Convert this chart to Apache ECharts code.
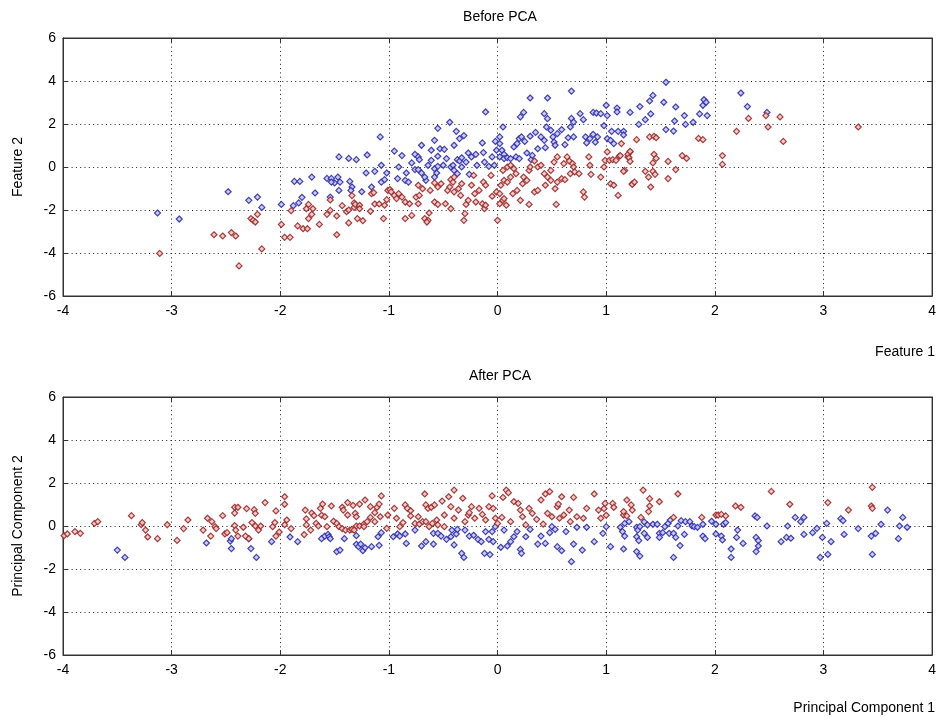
<!DOCTYPE html>
<html>
<head>
<meta charset="utf-8">
<script src="https://cdn.jsdelivr.net/npm/echarts@6/dist/echarts.min.js"></script>
<style>
  html, body { margin: 0; padding: 0; background: #fff; }
  #chart { width: 939px; height: 718px; }
</style>
</head>
<body>
<div id="chart"></div>
<script>
// axis ticks
var xTicks = [-4, -3, -2, -1, 0, 1, 2, 3, 4];
var yTicks = [-6, -4, -2, 0, 2, 4, 6];

// Before PCA, class 1 (blue)
var beforeBlue = [
  [-3.13,-2.14],[-2.93,-2.42],[-2.48,-1.15],[-2.29,-1.55],[-2.21,-1.40],[-2.17,-1.88],[-1.99,-1.74],[-1.88,-1.80],[-1.83,-1.67],[-1.80,-1.41],
  [-1.87,-0.67],[-1.82,-0.67],[-1.71,-0.47],[-1.68,-1.21],[-1.54,-1.40],[-1.57,-0.53],[-1.53,-0.53],[-1.47,-0.47],[-1.50,-0.74],[-1.53,-0.70],
  [-1.45,-0.70],[-1.46,0.47],[-1.37,0.40],[-1.30,0.34],[-1.36,-0.67],[-1.34,-0.93],[-1.35,-1.09],[-1.46,-1.09],
  [-1.20,0.56],[-1.08,1.40],[-1.21,-0.28],[-1.13,-0.20],[-1.07,0.08],[-1.16,-0.93],[-1.25,-1.15],[-1.07,-0.70],[-1.04,-0.59],[-1.02,-0.28],
  [-0.95,0.74],[-0.88,0.53],[-0.91,0.0],[-0.92,-0.54],[-0.85,-0.62],[-0.82,-0.70],[-0.84,-0.28],[-0.79,0.19],[-0.76,0.59],[-0.73,0.47],
  [-0.72,0.34],[-0.76,-0.12],[-0.73,-0.12],[-0.70,1.01],[-0.66,-0.62],[-0.70,-0.28],[-0.67,-0.47],[-0.61,0.78],[-0.58,1.24],[-0.55,1.80],
  [-0.55,0.50],[-0.53,0.85],[-0.49,0.82],[-0.58,-0.08],[-0.55,0.03],[-0.50,0.08],[-0.58,-0.47],[-0.56,-0.28],[-0.64,0.08],[-0.61,0.31],
  [-0.47,0.39],[-0.44,2.08],[-0.40,1.01],[-0.38,1.66],[-0.35,1.32],[-0.31,1.46],[-0.43,0.0],[-0.41,0.08],[-0.40,-0.16],[-0.37,0.34],
  [-0.35,0.28],[-0.33,0.43],[-0.33,0.0],[-0.37,-0.31],[-0.29,0.23],[-0.27,0.65],[-0.24,0.47],[-0.20,0.59],[-0.26,-0.34],[-0.19,0.08],
  [-0.14,1.12],[-0.13,0.67],[-0.12,0.23],[-0.11,2.56],[-0.08,0.03],[-0.05,0.47],[-0.02,1.19],[-0.01,0.78],[-0.03,0.08],
  [0.02,1.40],[0.02,1.09],[0.04,0.78],[0.05,1.86],[0.02,0.47],[0.06,0.59],[0.06,0.39],[0.09,0.43],[0.12,0.39],[0.15,0.93],
  [0.18,1.09],[0.20,1.32],[0.22,1.40],[0.17,0.47],[0.20,0.39],[0.21,2.33],[0.24,2.54],[0.25,1.19],[0.27,0.65],[0.30,3.21],
  [0.31,0.34],[0.32,0.54],[0.30,1.43],[0.35,1.61],[0.37,0.85],[0.40,1.40],[0.43,1.24],[0.43,2.48],[0.46,2.25],[0.46,3.21],
  [0.45,1.86],[0.49,1.71],[0.51,1.40],[0.52,1.16],[0.44,0.90],[0.53,1.01],[0.55,1.55],[0.59,1.74],[0.62,1.04],[0.65,1.36],
  [0.67,1.86],[0.68,2.26],[0.68,3.53],[0.70,2.09],[0.70,1.40],[0.76,2.48],[0.79,2.20],[0.81,1.40],[0.82,1.12],[0.85,1.32],
  [0.88,1.52],[0.90,1.15],[0.92,1.40],[0.88,2.54],[0.91,2.51],[0.95,2.48],[0.98,1.92],[1.00,2.87],[1.01,2.39],[1.01,1.32],
  [1.04,1.24],[1.05,1.66],[1.07,1.09],[1.10,2.74],[1.10,2.56],[1.11,1.66],[1.16,1.66],[1.16,1.49],[1.22,2.54],
  [1.30,1.98],[1.31,2.81],[1.36,2.20],[1.40,3.07],[1.43,3.33],[1.41,2.47],[1.53,3.01],[1.55,3.94],[1.55,1.74],[1.62,1.67],
  [1.63,2.14],[1.64,2.79],[1.72,2.39],[1.73,1.98],[1.80,2.08],[1.86,2.47],[1.89,2.87],[1.90,3.13],[1.92,3.01],[1.93,2.39],
  [2.24,3.44],[2.30,2.81],[2.48,2.54]
];

// Before PCA, class 2 (red)
var beforeRed = [
  [-3.11,-4.02],[-2.61,-3.15],[-2.53,-3.21],[-2.45,-3.05],[-2.41,-3.21],[-2.38,-4.60],[-2.27,-2.40],[-2.25,-2.48],[-2.23,-2.56],[-2.21,-2.20],
  [-2.17,-3.81],[-1.99,-2.67],[-1.96,-3.27],[-1.91,-3.27],[-1.90,-2.03],[-1.84,-2.74],[-1.79,-2.87],[-1.75,-2.87],[-1.74,-2.40],[-1.74,-1.74],
  [-1.76,-1.94],[-1.70,-1.94],[-1.71,-2.20],[-1.64,-2.67],[-1.57,-2.20],[-1.54,-2.02],[-1.54,-1.53],[-1.48,-2.28],[-1.48,-3.15],[-1.43,-1.80],
  [-1.39,-2.08],[-1.37,-2.00],[-1.37,-2.60],[-1.34,-1.33],[-1.32,-1.67],[-1.32,-1.88],[-1.29,-2.40],
  [-1.31,-1.74],[-1.27,-1.78],[-1.27,-1.94],[-1.24,-2.50],[-1.17,-2.06],[-1.16,-1.24],[-1.14,-1.19],[-1.13,-1.72],[-1.09,-1.72],[-1.05,-2.40],
  [-1.04,-1.78],[-1.02,-1.52],[-1.01,-1.09],[-0.99,-1.05],
  [-0.98,-1.16],[-0.95,-1.32],[-0.91,-1.24],[-0.93,-1.47],[-0.88,-1.40],[-0.85,-1.63],[-0.85,-2.40],[-0.79,-2.25],[-0.81,-1.71],[-0.75,-1.40],
  [-0.72,-1.32],[-0.73,-1.71],[-0.73,-0.85],[-0.69,-1.01],[-0.67,-2.40],[-0.64,-2.48],[-0.65,-2.56],[-0.63,-2.14],[-0.58,-1.63],[-0.55,-1.74],
  [-0.62,-1.09],[-0.58,-0.74],[-0.55,-0.93],[-0.52,-0.78],[-0.48,-1.71],[-0.43,-1.94],[-0.46,-1.09],[-0.44,-0.93],[-0.43,-0.59],[-0.41,-0.70],
  [-0.40,-0.47],[-0.40,-1.16],[-0.36,-1.01],[-0.34,-1.32],[-0.33,-0.78],[-0.30,-2.17],[-0.31,-2.48],[-0.29,-1.74],[-0.27,-1.55],[-0.24,-0.85],
  [-0.22,-0.39],[-0.21,-1.24],[-0.20,-1.63],[-0.17,-1.09],[-0.14,-1.71],[-0.12,-1.94],[-0.11,-1.78],[-0.13,-0.70],[-0.11,-0.85],[-0.06,-0.39],
  [-0.05,-1.36],[-0.01,-1.16],[0.00,-2.48],
  [0.02,-1.71],[0.05,-1.55],[0.06,-1.47],[0.08,-1.78],[0.02,-1.24],[0.05,-0.16],[0.06,-0.62],[0.03,-0.85],[0.09,-0.70],[0.12,-0.47],
  [0.09,0.0],[0.12,0.08],[0.15,-0.08],[0.17,-0.31],[0.14,-1.24],[0.18,-1.09],[0.21,-1.55],[0.23,-0.78],[0.24,-0.47],[0.27,-0.62],
  [0.29,-0.16],[0.30,0.0],[0.29,-1.74],[0.34,-1.16],[0.37,-1.09],[0.34,0.28],[0.37,0.0],[0.40,0.08],[0.43,-0.31],[0.44,-0.85],
  [0.46,-0.47],[0.49,-0.62],[0.49,-0.16],[0.52,0.23],[0.55,0.47],[0.53,-1.01],[0.55,-0.70],[0.59,-0.54],[0.61,0.16],[0.64,0.47],
  [0.66,0.28],[0.69,0.16],[0.70,0.0],[0.54,-1.74],[0.67,-0.31],[0.71,-0.23],[0.75,-0.31],[0.62,-0.59],[0.79,-1.16],[0.80,-1.40],
  [0.84,0.47],[0.85,0.08],[0.86,-0.34],[0.95,-0.47],[0.98,0.0],[0.99,0.31],[1.01,0.70],[1.04,-0.78],[1.07,-0.85],[1.11,-1.32],
  [1.03,0.31],[1.06,0.34],[1.09,0.31],[1.12,0.50],[1.14,1.09],[1.17,-0.16],[1.20,0.47],[1.22,0.70],[1.24,-0.78],
  [1.28,1.27],[1.40,1.40],[1.44,1.43],[1.46,1.36],[1.13,0.53],[1.20,0.59],[1.22,0.73],[1.21,0.43],[1.22,0.26],[1.16,-0.20],
  [1.24,-0.81],[1.26,-0.70],[1.36,-0.20],[1.39,-0.47],[1.41,-0.93],[1.43,0.19],[1.44,0.59],[1.46,0.40],[1.43,-0.20],[1.45,-0.34],
  [1.57,0.26],[1.57,-0.54],[1.64,-0.12],[1.70,0.53],[1.74,0.40],[1.85,1.33],[1.89,1.27],[2.07,0.53],[2.07,0.12],[2.20,1.66],
  [2.31,2.26],[2.47,2.39],[2.49,1.86],[2.60,2.33],[2.63,1.19],[3.32,1.86]
];

// After PCA, class 1 (blue)
var afterBlue = [
  [-3.50,-1.12],[-3.43,-1.46],[-2.68,-0.79],[-2.46,-0.70],[-2.45,-0.59],[-2.45,-1.05],[-2.29,-0.59],[-2.27,-1.05],[-2.22,-1.46],[-2.08,-0.73],
  [-1.91,-0.51],[-1.84,-0.73],[-1.62,-0.59],[-1.59,-0.47],[-1.56,-0.39],[-1.55,-0.50],[-1.54,-0.59],[-1.48,-1.19],[-1.45,-1.12],[-1.41,-0.59],
  [-1.30,-0.45],[-1.30,-0.85],[-1.28,-0.96],
  [-1.24,-1.15],[-1.22,-1.01],[-1.26,-0.84],[-1.16,-0.96],[-1.09,-0.90],[-1.10,-0.50],[-1.07,-0.31],
  [-0.96,-0.50],[-0.92,-0.37],[-0.90,-0.47],[-0.85,-0.37],[-0.84,-0.81],[-0.76,-0.19],[-0.70,-0.93],[-0.66,-0.73],[-0.59,-0.84],[-0.59,-0.34],
  [-0.55,-0.34],[-0.52,-0.47],[-0.47,-0.62],[-0.43,-0.50],[-0.42,-0.19],[-0.40,-0.88],[-0.38,-0.37],[-0.37,-0.16],[-0.33,-1.27],[-0.31,-1.46],
  [-0.30,-0.19],[-0.26,-0.47],[-0.22,-0.43],[-0.18,-0.62],[-0.15,-0.73],[-0.12,-1.27],[-0.07,-1.33],[-0.11,-0.26],[-0.05,-0.26],[-0.08,-0.62],
  [-0.04,-0.73],[-0.02,-0.03],
  [0.03,-0.99],[0.06,-0.19],[0.09,-0.93],[0.12,-0.73],[0.15,-0.50],[0.18,-0.26],[0.21,-1.09],[0.22,-1.27],[0.26,-0.50],[0.30,-0.16],
  [0.37,-0.84],[0.40,-0.47],[0.44,-0.81],[0.48,-0.31],[0.50,-0.03],[0.53,-0.16],[0.55,-0.96],[0.59,-1.15],[0.63,-0.26],[0.68,-1.66],
  [0.70,-0.84],[0.73,-0.06],[0.78,-1.12],[0.82,-0.06],[0.89,-0.73],[0.97,-0.34],[1.00,-0.03],[1.04,-0.96],
  [1.13,-0.06],[1.17,0.12],[1.21,0.20],[1.15,-0.26],[1.17,-0.47],[1.16,-1.07],[1.28,-0.06],[1.29,-0.19],[1.31,-0.03],[1.28,-0.50],
  [1.30,-0.68],[1.28,-1.19],[1.31,-1.40],[1.35,0.19],[1.38,0.05],[1.35,-0.34],[1.38,-0.53],[1.43,0.08],[1.47,0.08],[1.49,-0.34],
  [1.52,-0.31],[1.49,-0.53],[1.54,-0.03],[1.57,0.12],[1.59,0.28],[1.58,-0.34],[1.62,-0.34],[1.64,-0.53],[1.62,-1.46],[1.68,-0.91],
  [1.66,0.0],[1.69,0.25],[1.73,0.20],[1.77,0.20],[1.72,-0.39],[1.79,0.0],[1.81,-0.03],[1.84,-0.06],[1.89,0.08],[1.89,-0.47],
  [1.91,-0.59],[1.97,0.22],[2.01,-0.37],[2.01,0.08],[2.06,-0.47],[2.07,-0.65],[2.08,0.08],[2.10,0.16],[2.15,-1.07],[2.15,-1.46],
  [2.20,-0.53],[2.21,-0.19],[2.26,-0.81],[2.37,0.47],[2.39,0.40],[2.38,-0.53],[2.40,-0.68],[2.40,-0.93],[2.38,-1.19],[2.48,0.0],
  [2.61,-0.73],[2.67,0.0],[2.66,-0.53],[2.70,-0.57],[2.74,0.40],[2.79,0.20],[2.82,0.40],[2.82,-0.39],[2.90,-0.31],[2.94,-0.11],
  [2.97,-1.46],[2.99,-0.53],[3.03,0.12],[3.04,-1.32],[3.07,-0.73],[3.16,0.34],[3.18,0.25],[3.19,-0.39],[3.32,-0.12],[3.44,-0.47],
  [3.45,-1.32],[3.48,-0.34],[3.53,0.08],[3.59,0.74],[3.69,-0.59],[3.70,0.0],[3.73,0.40],[3.77,-0.06]
];

// After PCA, class 2 (red)
var afterRed = [
  [-3.99,-0.45],[-3.96,-0.37],[-3.89,-0.26],[-3.84,-0.34],[-3.71,0.12],[-3.68,0.20],[-3.37,0.48],[-3.28,0.06],[-3.27,0.16],[-3.24,-0.19],
  [-3.22,-0.51],[-3.13,-0.59],[-3.04,0.06],[-2.95,-0.67],[-2.89,-0.12],[-2.85,0.28],[-2.71,-0.19],[-2.67,0.36],[-2.63,0.20],[-2.64,-0.47],
  [-2.60,-0.03],[-2.59,-0.12],[-2.53,0.48],[-2.51,-0.37],[-2.49,-0.31],[-2.42,0.87],[-2.39,0.87],[-2.42,0.60],[-2.42,0.02],[-2.41,-0.19],
  [-2.39,-0.47],[-2.34,-0.06],[-2.31,0.81],[-2.32,-0.47],[-2.29,-0.59],[-2.26,0.16],[-2.24,0.76],[-2.23,0.59],[-2.23,0.0],[-2.20,-0.19],
  [-2.18,0.0],[-2.14,1.09],[-2.07,-0.03],[-2.05,0.16],[-2.04,0.70],[-2.04,-0.47],[-2.01,-0.28],[-1.96,1.36],[-1.96,1.01],[-1.96,0.06],
  [-1.94,0.28],[-1.90,-0.12],[-1.78,-0.40],[-1.77,0.74],[-1.76,0.33],[-1.76,0.05],[-1.72,-0.19],[-1.71,0.60],[-1.69,0.48],[-1.67,0.12],
  [-1.65,0.0],[-1.63,0.82],[-1.62,0.50],[-1.61,1.02],[-1.59,0.43],[-1.57,-0.03],[-1.53,0.93],[-1.51,0.22],[-1.48,0.12],[-1.46,-0.03],
  [-1.43,0.87],[-1.42,0.74],[-1.38,1.09],[-1.38,0.51],[-1.43,-0.12],[-1.40,-0.19],[-1.36,-0.19],[-1.33,0.96],[-1.31,0.59],[-1.30,0.43],
  [-1.30,0.0],
  [-1.27,1.02],[-1.22,1.21],[-1.17,0.90],[-1.13,0.62],[-1.11,0.87],[-1.09,1.02],[-1.07,1.40],[-1.27,0.0],[-1.23,0.09],[-1.23,-0.03],
  [-1.20,0.20],[-1.17,0.40],[-1.13,0.20],[-1.08,0.43],[-1.34,-0.16],[-1.32,-0.19],[-1.02,-0.11],[-1.01,0.51],
  [-0.95,0.82],[-0.93,0.36],[-0.90,-0.03],[-0.87,0.16],[-0.85,0.98],[-0.83,0.82],[-0.80,0.47],[-0.80,0.71],[-0.76,0.12],[-0.73,0.43],
  [-0.72,0.09],[-0.69,0.20],[-0.67,1.49],[-0.66,0.98],[-0.64,0.82],[-0.61,0.87],[-0.58,0.98],[-0.66,0.20],[-0.63,-0.03],[-0.60,0.12],
  [-0.56,0.28],[-0.55,0.05],[-0.49,-0.03],[-0.51,1.16],[-0.49,0.51],[-0.45,1.36],[-0.43,0.90],[-0.40,1.67],[-0.40,0.36],[-0.36,0.74],
  [-0.32,1.29],[-0.30,0.20],[-0.27,0.51],[-0.24,0.90],[-0.26,0.62],[-0.21,0.36],[-0.17,0.82],[-0.14,0.54],[-0.11,0.28],[-0.08,0.90],
  [-0.05,1.40],[-0.04,0.82],[-0.02,0.36],[0.0,0.12],
  [0.04,0.40],[0.05,1.33],[0.08,1.67],[0.10,1.55],[0.12,0.20],[0.15,1.13],[0.19,1.05],[0.21,0.74],[0.23,0.43],[0.26,0.05],
  [0.29,0.82],[0.32,0.59],[0.36,0.31],[0.40,1.21],[0.42,0.09],[0.44,1.49],[0.48,1.60],[0.46,0.59],[0.50,0.43],[0.55,0.90],
  [0.56,1.02],[0.59,1.36],[0.57,0.36],[0.61,0.51],[0.66,0.74],[0.70,1.33],[0.67,0.20],[0.73,0.43],[0.79,0.36],[0.82,0.82],
  [0.89,1.49],[0.93,0.74],[0.98,0.81],[0.99,1.05],[0.95,0.36],[1.00,0.50],[1.06,1.05],[1.07,0.87],[1.16,0.51],[1.19,1.21],
  [1.23,0.98],
  [1.16,0.67],[1.19,0.47],[1.24,0.74],[1.34,1.67],[1.40,1.27],[1.40,0.93],[1.39,0.67],[1.32,0.40],[1.49,1.13],[1.62,0.40],
  [1.66,1.49],[1.88,0.40],[2.01,0.51],[2.03,0.51],[2.06,0.54],[2.10,0.47],[2.19,0.93],[2.24,0.87],[2.52,1.61],[2.69,1.01],
  [3.04,1.09],[3.23,0.74],[3.45,1.80],[3.44,0.93],[3.45,0.82]
];

var chart = echarts.init(document.getElementById('chart'));

var fontName = 'Liberation Sans, Arial, sans-serif';
var blue = '#2c2cb4';
var red = '#a02828';

function xAx(grid, bottom) {
  return {
    type: 'value', gridIndex: grid, min: xTicks[0], max: xTicks[xTicks.length - 1], interval: 1,
    position: bottom ? 'bottom' : 'top',
    axisLine: { show: true, onZero: false, lineStyle: { color: '#333', width: 1 } },
    axisTick: { show: true, inside: true, length: 5, lineStyle: { color: '#333' } },
    axisLabel: { show: bottom, color: '#000', fontSize: 14, fontFamily: fontName, margin: 8 },
    splitLine: { show: bottom, lineStyle: { color: '#222', width: 1, type: [1, 3.3] } }
  };
}
function yAx(grid, left) {
  return {
    type: 'value', gridIndex: grid, min: yTicks[0], max: yTicks[yTicks.length - 1], interval: 2,
    position: left ? 'left' : 'right',
    axisLine: { show: true, onZero: false, lineStyle: { color: '#333', width: 1 } },
    axisTick: { show: true, inside: true, length: 5, lineStyle: { color: '#333' } },
    axisLabel: { show: left, color: '#000', fontSize: 14, fontFamily: fontName, margin: 7 },
    splitLine: { show: left, lineStyle: { color: '#222', width: 1, type: [1, 3.3] } }
  };
}
function pts(data, color, fill, xi, yi) {
  return {
    type: 'scatter', data: data, xAxisIndex: xi, yAxisIndex: yi,
    symbol: 'diamond', symbolSize: 6,
    itemStyle: { color: fill, borderColor: color, borderWidth: 1.2, opacity: 0.9 }
  };
}
function txt(x, y, s, align, rot) {
  return {
    type: 'text', x: x, y: y, rotation: rot || 0, silent: true,
    style: { text: s, fontSize: 14, fontFamily: fontName, fill: '#000', align: align, verticalAlign: 'middle' }
  };
}

chart.setOption({
  animation: false,
  backgroundColor: '#fff',
  grid: [
    { left: 63, top: 38, width: 874, height: 258, show: true, borderColor: '#333', borderWidth: 1, backgroundColor: '#fff' },
    { left: 63, top: 397, width: 874, height: 258, show: true, borderColor: '#333', borderWidth: 1, backgroundColor: '#fff' }
  ],
  xAxis: [xAx(0, true), xAx(0, false), xAx(1, true), xAx(1, false)],
  yAxis: [yAx(0, true), yAx(0, false), yAx(1, true), yAx(1, false)],
  series: [
    pts(beforeBlue, blue, '#c8c8ee', 0, 0),
    pts(beforeRed, red, '#ecc8c8', 0, 0),
    pts(afterBlue, blue, '#c8c8ee', 2, 2),
    pts(afterRed, red, '#ecc8c8', 2, 2)
  ],
  graphic: [
    txt(500, 17, 'Before PCA', 'center'),
    txt(500, 376, 'After PCA', 'center'),
    txt(935, 352, 'Feature 1', 'right'),
    txt(935, 708, 'Principal Component 1', 'right'),
    txt(18, 167, 'Feature 2', 'center', Math.PI / 2),
    txt(18, 526, 'Principal Component 2', 'center', Math.PI / 2)
  ]
});
</script>
</body>
</html>
